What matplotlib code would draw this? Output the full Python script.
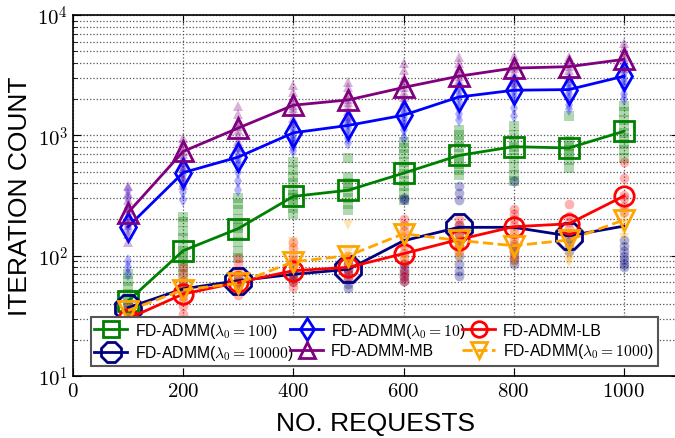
import numpy as np
import matplotlib
matplotlib.use("Agg")
import matplotlib.pyplot as plt
from matplotlib.ticker import FixedLocator, LogLocator, NullFormatter

plt.rcParams['font.family'] = ['Liberation Sans', 'DejaVu Sans']
plt.rcParams['mathtext.fontset'] = 'cm'

requests = [100, 200, 300, 400, 500, 600, 700, 800, 900, 1000]

# mean iteration counts
mean_l100 = [42, 110, 168, 311, 350, 485, 680, 805, 785, 1080]
mean_l10000 = [37, 53, 62, 70, 77, 133, 172, 172, 146, 176]
mean_l10 = [174, 490, 660, 1050, 1210, 1470, 2080, 2370, 2400, 3100]
mean_mb = [228, 735, 1150, 1780, 1970, 2500, 3100, 3620, 3720, 4280]
mean_lb = [30, 48, 60, 75, 80, 104, 136, 174, 184, 313]
mean_l1000 = [35, 52, 59, 89, 100, 152, 134, 121, 135, 198]

# individual runs per request count
runs_l100 = [
    [70, 62, 55, 48, 44, 40],
    [210, 190, 160, 140, 120, 110, 100, 90, 80, 70],
    [300, 270, 240, 200, 180, 170, 150, 130, 110, 95],
    [600, 520, 450, 400, 350, 320, 300, 280, 250, 220],
    [650, 450, 400, 370, 340, 300, 270, 240],
    [880, 780, 700, 600, 550, 480, 420, 380, 330, 290],
    [1100, 1000, 900, 800, 700, 640, 580, 520, 470],
    [1200, 1000, 900, 800, 750, 650, 550, 470, 420],
    [1450, 900, 820, 760, 700, 620, 540],
    [1750, 1550, 1350, 1200, 1050, 950, 850, 750, 650],
]
runs_l10000 = [
    [40, 38, 36, 34],
    [58, 55, 52, 50],
    [66, 62, 60, 57],
    [75, 70, 66, 62],
    [85, 78, 72, 64, 58, 54],
    [300, 290, 85, 78, 72, 66, 62],
    [380, 330, 290, 180, 150, 120, 100, 85, 75, 68],
    [420, 120, 110, 100, 92, 86],
    [140, 130, 120, 110],
    [135, 120, 110, 100, 92, 85, 80],
]
runs_l10 = [
    [350, 300, 250, 200, 175, 160, 90, 80, 70],
    [600, 540, 500, 470, 420, 380, 340, 290],
    [800, 720, 650, 600, 560, 500, 420, 350],
    [1200, 1100, 1000, 950, 900, 850, 800, 740],
    [1400, 1300, 1250, 1150, 1050, 950, 870],
    [1800, 1600, 1500, 1400, 1300, 1200, 1100, 950],
    [2500, 2300, 2100, 1900, 1700, 1500, 1350],
    [2900, 2600, 2400, 2200, 2000, 1700, 1450],
    [2800, 2600, 2400, 2200, 2000, 1800, 1650],
    [3600, 3300, 3000, 2800, 2500, 2200, 2000],
]
runs_mb = [
    [380, 330, 290, 260, 240, 215, 200, 180, 150, 130],
    [950, 880, 800, 740, 700, 650, 600, 540, 450, 390],
    [1750, 1500, 1300, 1200, 1100, 1000, 900, 800],
    [2600, 2300, 2000, 1800, 1700, 1550, 1400, 1300],
    [2800, 2500, 2200, 2000, 1900, 1750, 1600, 1450],
    [4000, 3500, 3000, 2700, 2500, 2300, 2100, 1900],
    [4500, 4000, 3600, 3300, 3100, 2900, 2700],
    [4600, 4100, 3800, 3600, 3300, 3000, 2800],
    [4500, 4100, 3800, 3500, 3200, 3000],
    [5800, 5300, 4900, 4500, 4200, 3900, 3600],
]
runs_lb = [
    [33, 31, 30, 29],
    [80, 70, 62, 55, 50, 46, 42, 38, 33],
    [95, 85, 75, 68, 62, 57, 52, 47],
    [130, 115, 100, 90, 80, 72, 65, 60, 55],
    [100, 92, 85, 78, 72, 66],
    [200, 180, 160, 140, 120, 105, 95, 85, 75, 68, 62],
    [200, 180, 165, 150, 135, 120, 110],
    [245, 220, 200, 180, 160, 140, 125, 110, 95],
    [270, 215, 190, 170, 150],
    [600, 440, 320, 300, 260, 230],
]
runs_l1000 = [
    [38, 36, 34, 32],
    [60, 55, 52, 48, 45],
    [70, 65, 60, 57, 54],
    [130, 115, 100, 90, 85],
    [180, 105, 98, 92, 86],
    [170, 150, 130, 115, 100, 90],
    [150, 135, 120, 110, 100, 95],
    [150, 135, 120, 110, 100, 92, 85],
    [135, 125, 115, 105, 95, 88],
    [220, 200, 180, 160, 140],
]

series = [
    # label, mean, runs, colour, main marker, run marker, linestyle, main size, markevery
    ('FD-ADMM($\\lambda_0=100$)', mean_l100, runs_l100, 'green', 's', 's', '-', 14, 1),
    ('FD-ADMM($\\lambda_0=10000$)', mean_l10000, runs_l10000, 'navy', '8', 'o', '-', 20, 2),
    ('FD-ADMM($\\lambda_0=10$)', mean_l10, runs_l10, 'blue', 'd', 'd', '-', 14, 1),
    ('FD-ADMM-MB', mean_mb, runs_mb, 'purple', '^', '^', '-', 15, 1),
    ('FD-ADMM-LB', mean_lb, runs_lb, 'red', 'o', 'o', '-', 14, 1),
    ('FD-ADMM($\\lambda_0=1000$)', mean_l1000, runs_l1000, 'orange', 'v', 'v', '--', 14, 1),
]

fig = plt.figure(figsize=(6.75, 4.39), dpi=100)
ax = fig.add_axes([73 / 675, 62 / 439, 606 / 675, 361 / 439])

for label, mean, runs, col, mk, rmk, ls, ms, every in series:
    xs = np.concatenate([[x] * len(r) for x, r in zip(requests, runs)])
    ys = np.concatenate(runs)
    ax.plot(xs, ys, ls='none', marker=rmk, color=col, alpha=0.3,
            markersize=7, markeredgewidth=0)

handles = []
for label, mean, runs, col, mk, rmk, ls, ms, every in series:
    h, = ax.plot(requests, mean, ls=ls, color=col, lw=2, marker=mk,
                 markersize=ms, markerfacecolor='none', markeredgecolor=col,
                 markeredgewidth=2, markevery=every, label=label)
    handles.append(h)

ax.set_yscale('log')
ax.set_xlim(0, 1100)
ax.set_ylim(10, 10000)
ax.xaxis.set_major_locator(FixedLocator([0, 200, 400, 600, 800, 1000]))
ax.set_xticklabels(['$%d$' % v for v in [0, 200, 400, 600, 800, 1000]])
ax.yaxis.set_major_locator(FixedLocator([10, 100, 1000, 10000]))
ax.set_yticklabels(['$10^{1}$', '$10^{2}$', '$10^{3}$', '$10^{4}$'])
ax.yaxis.set_minor_locator(LogLocator(base=10, subs=np.arange(2, 10)))
ax.yaxis.set_minor_formatter(NullFormatter())
ax.tick_params(axis='both', which='major', labelsize=15, direction='in',
               top=True, right=True, length=6)
ax.tick_params(axis='y', which='minor', direction='in', right=True, length=3)

ax.grid(True, which='major', axis='both', ls=':', color='#555555', lw=0.9)
ax.grid(True, which='minor', axis='y', ls=':', color='#555555', lw=0.9)
for sp in ax.spines.values():
    sp.set_linewidth(1.2)

ax.set_xlabel('NO. REQUESTS', fontsize=19, labelpad=8)
ax.set_ylabel('ITERATION COUNT', fontsize=19, labelpad=4)

leg = ax.legend(handles=handles, ncol=3, loc='lower left',
                bbox_to_anchor=(0.016, 0.006, 0.962, 0.13), mode='expand',
                fontsize=11.3, fancybox=False, framealpha=1, markerscale=0.8,
                edgecolor='#555555', handlelength=2.1, borderpad=0.25,
                labelspacing=0.2, handletextpad=0.5, columnspacing=0.5)
leg.get_frame().set_linewidth(1.5)

fig.savefig('out.png', dpi=100)
